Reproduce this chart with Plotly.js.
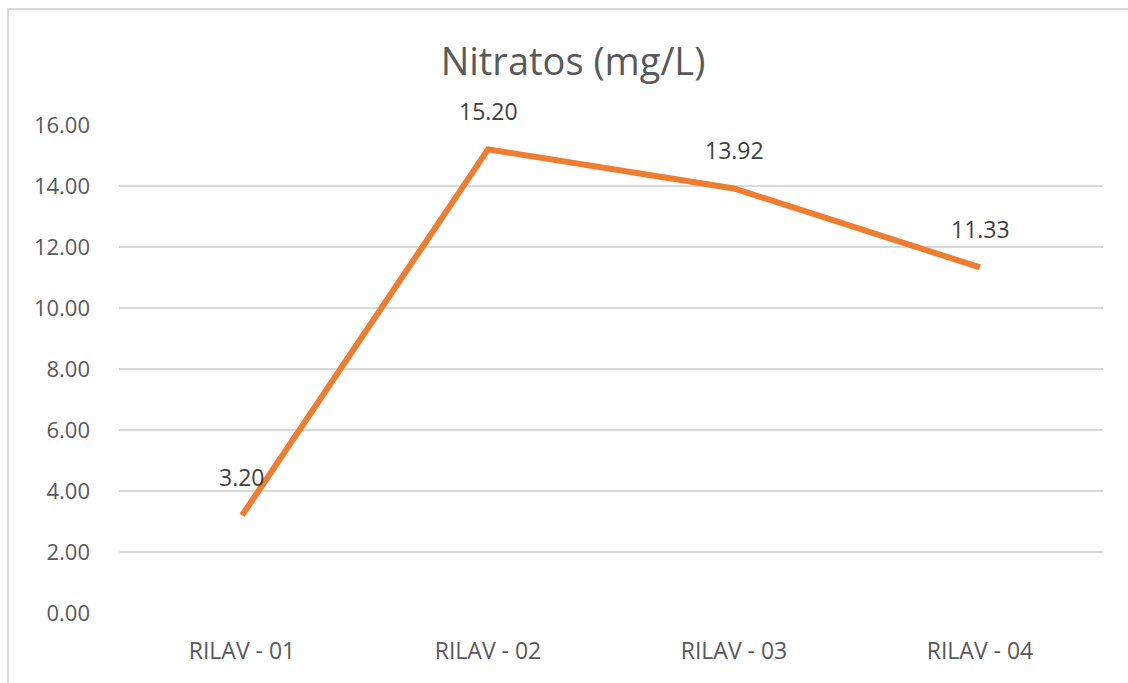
<!DOCTYPE html>
<html><head><meta charset="utf-8">
<script src="https://cdn.plot.ly/plotly-3.0.1.min.js"></script>
<style>html,body{margin:0;padding:0;background:#fff;}#wrap{position:relative;width:1128px;height:683px;}
#frame{position:absolute;left:7px;top:8px;width:1130px;height:690px;border:2px solid #d9d9d9;box-sizing:border-box;pointer-events:none;}
</style></head>
<body><div id="wrap"><div id="chart" style="width:1128px;height:683px;"></div><div id="frame"></div></div>
<script>
const categories = ["RILAV - 01", "RILAV - 02", "RILAV - 03", "RILAV - 04"];
const nitratos = [3.20, 15.20, 13.92, 11.33];
const yTicks = [0, 2, 4, 6, 8, 10, 12, 14, 16];

const font = "'Open Sans', 'Noto Sans', sans-serif";
const trace = {
  x: categories, y: nitratos, type: 'scatter', mode: 'lines',
  line: {color: '#ED7D31', width: 6}, hoverinfo: 'none'
};
const annotations = categories.map((c, i) => ({
  x: c, y: nitratos[i], text: nitratos[i].toFixed(2), showarrow: false,
  yshift: 38, font: {family: font, size: 23, color: '#404040'}
}));
Plotly.newPlot('chart', [trace], {
  width: 1128, height: 683,
  margin: {l: 119, r: 25, t: 125, b: 70},
  paper_bgcolor: '#fff', plot_bgcolor: '#fff',
  showlegend: false,
  title: {text: 'Nitratos (mg/L)', x: 0.508, xanchor: 'center', y: 0.91, yanchor: 'middle',
    font: {family: font, size: 38, color: '#595959'}},
  xaxis: {type: 'category', range: [-0.5, 3.5], showgrid: false, zeroline: false, showline: false,
    ticks: '', ticklabelstandoff: 22, tickfont: {family: font, size: 23, color: '#595959'}},
  yaxis: {range: [0, 16], tickvals: yTicks, ticktext: yTicks.map(v => v.toFixed(2)),
    showgrid: true, gridcolor: '#d9d9d9', gridwidth: 2, zeroline: false, showline: false,
    ticks: '', ticklabelstandoff: 28, tickfont: {family: font, size: 22, color: '#595959'}},
  annotations: annotations
}, {displayModeBar: false, staticPlot: true});
</script></body></html>
